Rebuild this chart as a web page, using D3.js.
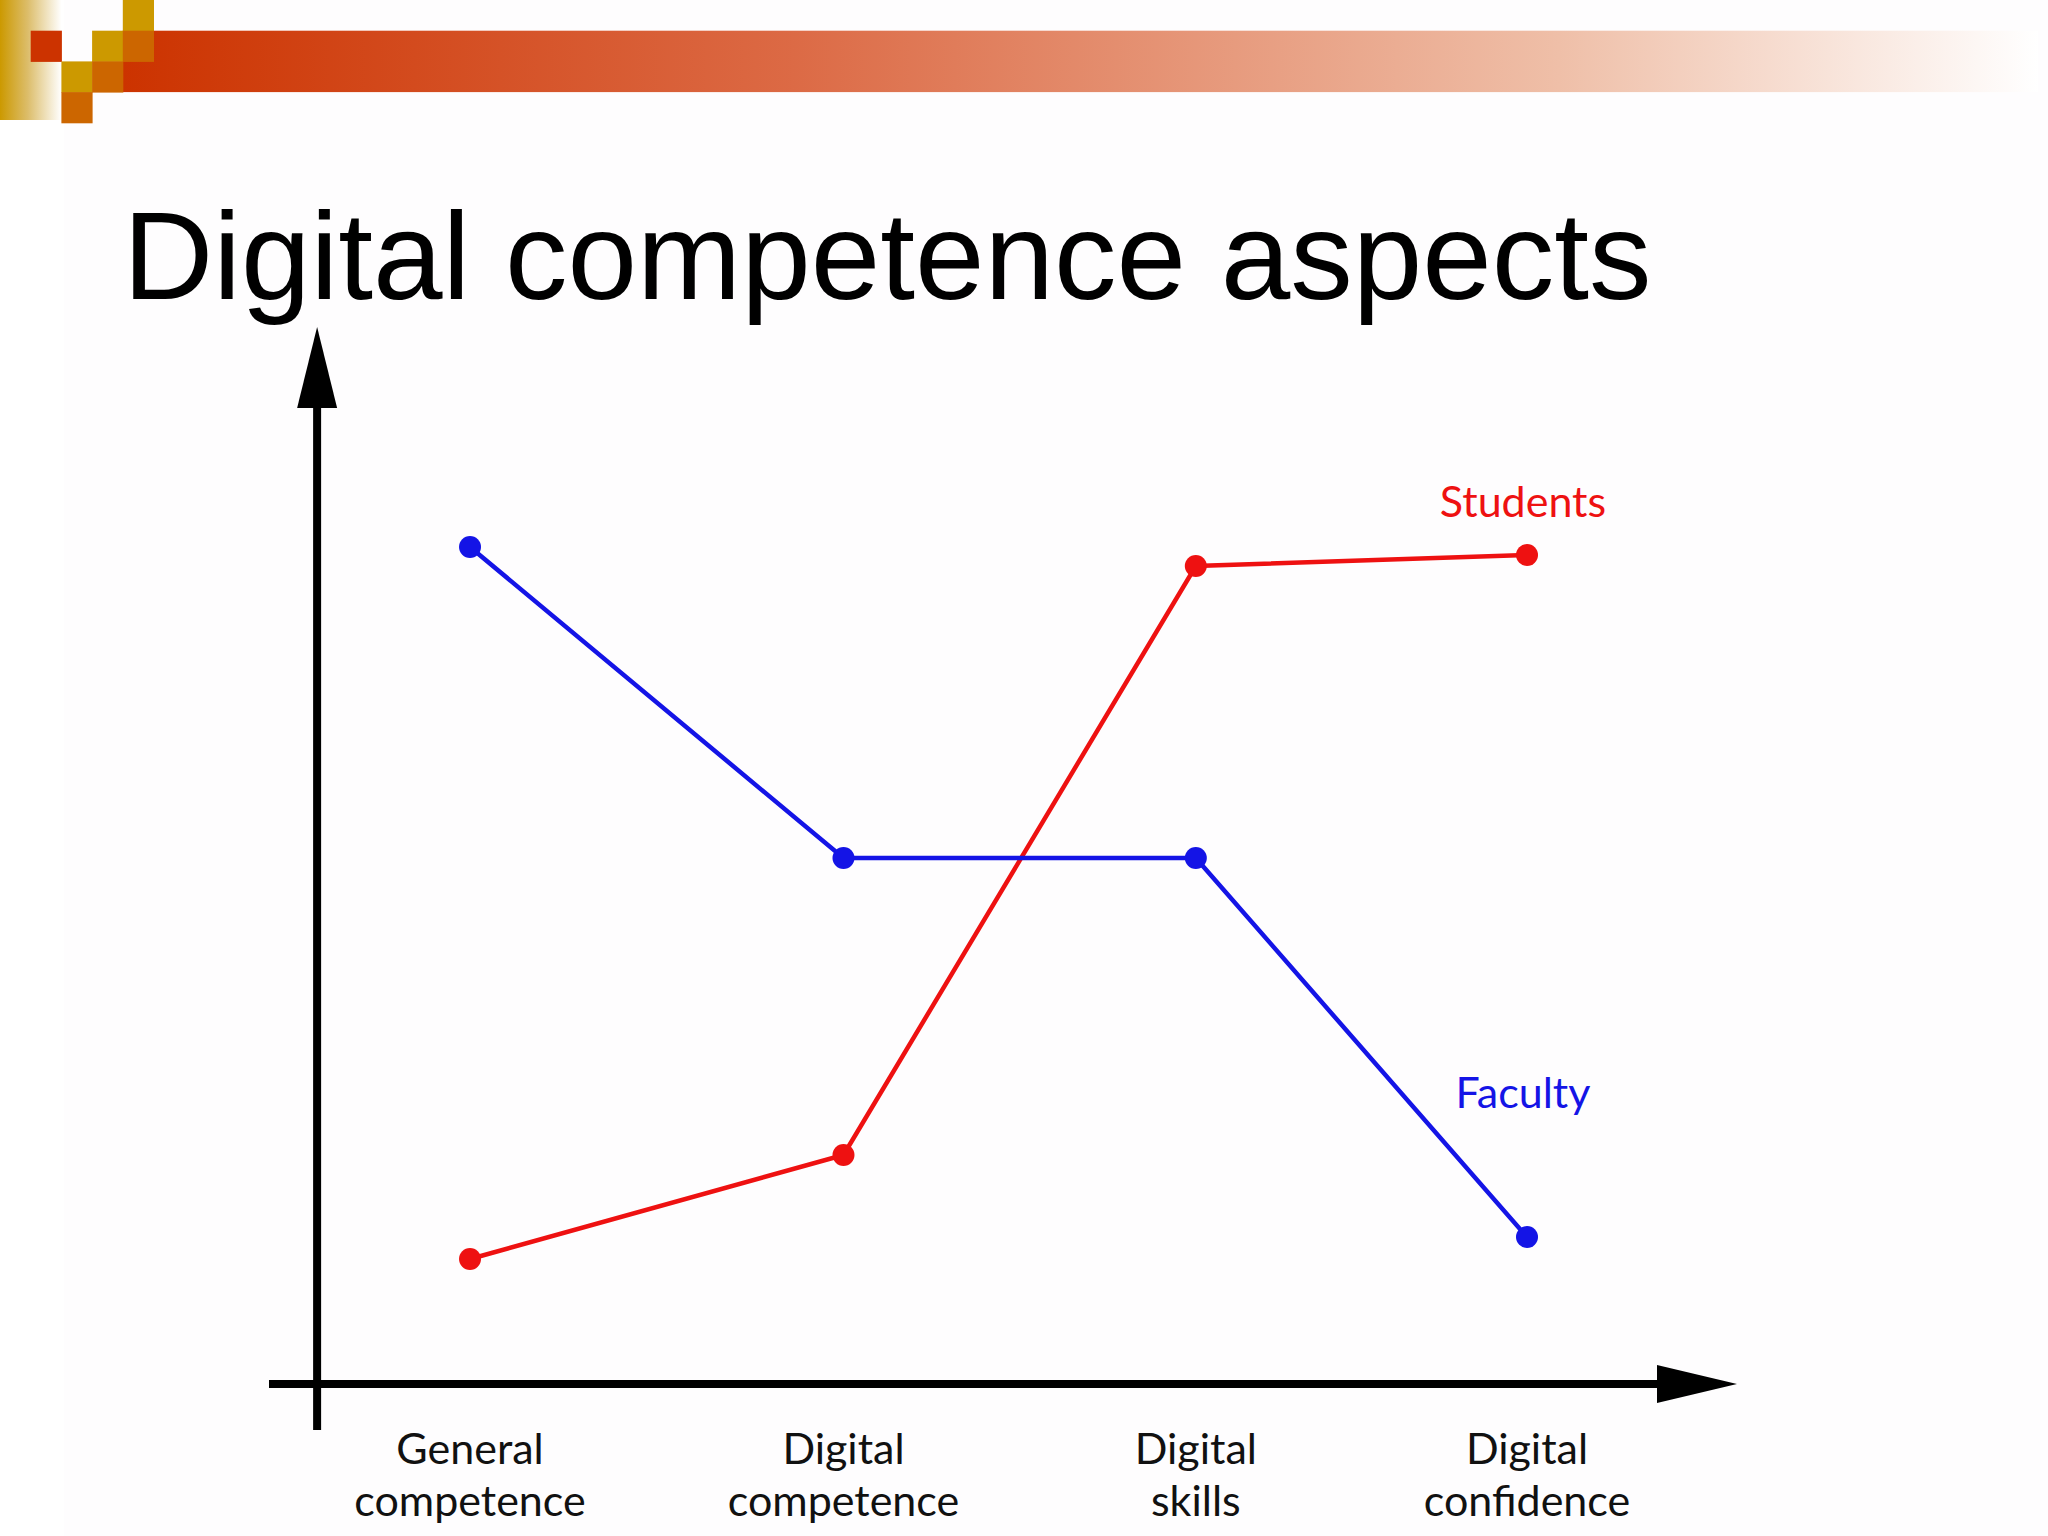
<!DOCTYPE html>
<html>
<head>
<meta charset="utf-8">
<script src="https://cdn.jsdelivr.net/npm/d3@7"></script>
<style>
  html, body { margin: 0; padding: 0; background: #fff; }
  svg { display: block; }
</style>
</head>
<body>
<svg width="2048" height="1536"></svg>
<script>
// categories along the x axis (two lines each)
var categories = [
    ["General", "competence"],
    ["Digital", "competence"],
    ["Digital", "skills"],
    ["Digital", "confidence"]
];
// position of each category on the conceptual x axis
var catPos = [1, 2.06, 3.06, 4];

// values (0 = x axis, arbitrary units)
var facultyValues = [8.37, 5.26, 5.26, 1.47];
var studentValues = [1.25, 2.29, 8.18, 8.29];

var seriesNames = ["Students", "Faculty"];

var svg = d3.select("svg"),
    width = +svg.attr("width"),
    height = +svg.attr("height"),
    red = "#ee1111",
    blue = "#1414e6";

var defs = svg.append("defs");

// slide background + faint picture area
svg.append("rect").attr("width", width).attr("height", height).attr("fill", "#fff");
svg.append("rect")
    .attr("x", 64).attr("y", 0)
    .attr("width", width - 64).attr("height", height)
    .attr("fill", "#fefdfe");

// ---- header decoration ----
var barGrad = defs.append("linearGradient").attr("id", "barGrad");
barGrad.append("stop").attr("offset", "0%").attr("stop-color", "#cc3300");
barGrad.append("stop").attr("offset", "35%").attr("stop-color", "#dc6a45");
barGrad.append("stop").attr("offset", "75%").attr("stop-color", "#efbfa8");
barGrad.append("stop").attr("offset", "100%").attr("stop-color", "#ffffff");

var goldGrad = defs.append("linearGradient").attr("id", "goldGrad");
goldGrad.append("stop").attr("offset", "0%").attr("stop-color", "#cc9900");
goldGrad.append("stop").attr("offset", "45%").attr("stop-color", "#dcbd6a");
goldGrad.append("stop").attr("offset", "100%").attr("stop-color", "#ffffff");

var u = 30.7,
    header = svg.append("g").attr("class", "header");

header.append("rect")
    .attr("x", 0).attr("y", 0).attr("width", 2 * u).attr("height", 120)
    .attr("fill", "url(#goldGrad)");
header.append("rect")
    .attr("x", 4 * u).attr("y", u).attr("width", width - 4 * u - 10).attr("height", 2 * u)
    .attr("fill", "url(#barGrad)");

var cells = [
    {c: 1, r: 1, fill: "#cc3300"},
    {c: 4, r: 0, fill: "#cc9900"},
    {c: 3, r: 1, fill: "#cc9900"},
    {c: 2, r: 2, fill: "#cc9900"},
    {c: 4, r: 1, fill: "#cc6600"},
    {c: 3, r: 2, fill: "#cc6600"},
    {c: 2, r: 3, fill: "#cc6600"}
];
header.selectAll("rect.cell")
    .data(cells)
    .enter().append("rect")
    .attr("class", "cell")
    .attr("x", function(d) { return d.c * u; })
    .attr("y", function(d) { return d.r * u; })
    .attr("width", u + 0.5)
    .attr("height", u + 0.5)
    .attr("fill", function(d) { return d.fill; });

// title
svg.append("text")
    .attr("x", 123)
    .attr("y", 299)
    .attr("font-family", "Liberation Sans, Arial, sans-serif")
    .attr("font-size", 125)
    .attr("fill", "#000")
    .text("Digital competence aspects");

// ---- scales ----
var x = d3.scaleLinear().domain([0, 4]).range([117.7, 1527]);
var y = d3.scaleLinear().domain([0, 10]).range([1384, 384]);

// ---- axes with arrow heads ----
var axes = svg.append("g").attr("class", "axes");
var x0 = x(0.566), y0 = y(0);

axes.append("line")
    .attr("x1", x0).attr("y1", 1430)
    .attr("x2", x0).attr("y2", 400)
    .attr("stroke", "#000").attr("stroke-width", 8);
axes.append("path")
    .attr("d", d3.line()([[x0 - 20, 408], [x0, 327], [x0 + 20, 408]]) + "Z")
    .attr("fill", "#000");

axes.append("line")
    .attr("x1", 269).attr("y1", y0)
    .attr("x2", 1665).attr("y2", y0)
    .attr("stroke", "#000").attr("stroke-width", 8);
axes.append("path")
    .attr("d", d3.line()([[1657, y0 - 19], [1737, y0], [1657, y0 + 19]]) + "Z")
    .attr("fill", "#000");

// category labels
var labels = svg.append("g").attr("class", "labels")
    .selectAll("text")
    .data(categories)
    .enter().append("text")
    .attr("text-anchor", "middle")
    .attr("font-family", "Lato, sans-serif")
    .attr("font-size", 43)
    .attr("fill", "#111");
labels.append("tspan")
    .attr("x", function(d, i) { return x(catPos[i]); })
    .attr("y", 1464)
    .text(function(d) { return d[0]; });
labels.append("tspan")
    .attr("x", function(d, i) { return x(catPos[i]); })
    .attr("y", 1516)
    .text(function(d) { return d[1]; });

// ---- series ----
var series = [
    {name: seriesNames[0], values: studentValues, color: red},
    {name: seriesNames[1], values: facultyValues, color: blue}
];

var line = d3.line()
    .x(function(d) { return x(d.pos); })
    .y(function(d) { return y(d.v); });

series.forEach(function(s) {
    var pts = s.values.map(function(v, i) { return {pos: catPos[i], v: v}; });
    var g = svg.append("g").attr("class", "series");

    g.append("path")
        .datum(pts)
        .attr("d", line)
        .attr("fill", "none")
        .attr("stroke", s.color)
        .attr("stroke-width", 4.5);

    g.selectAll("circle")
        .data(pts)
        .enter().append("circle")
        .attr("cx", function(d) { return x(d.pos); })
        .attr("cy", function(d) { return y(d.v); })
        .attr("r", 11)
        .attr("fill", s.color);
});

// series labels
svg.append("text")
    .attr("x", x(4) - 4).attr("y", 517)
    .attr("text-anchor", "middle")
    .attr("font-family", "Lato, sans-serif")
    .attr("font-size", 43)
    .attr("fill", red)
    .text(seriesNames[0]);
svg.append("text")
    .attr("x", x(4) - 4).attr("y", 1108)
    .attr("text-anchor", "middle")
    .attr("font-family", "Lato, sans-serif")
    .attr("font-size", 43)
    .attr("fill", blue)
    .text(seriesNames[1]);
</script>
</body>
</html>
